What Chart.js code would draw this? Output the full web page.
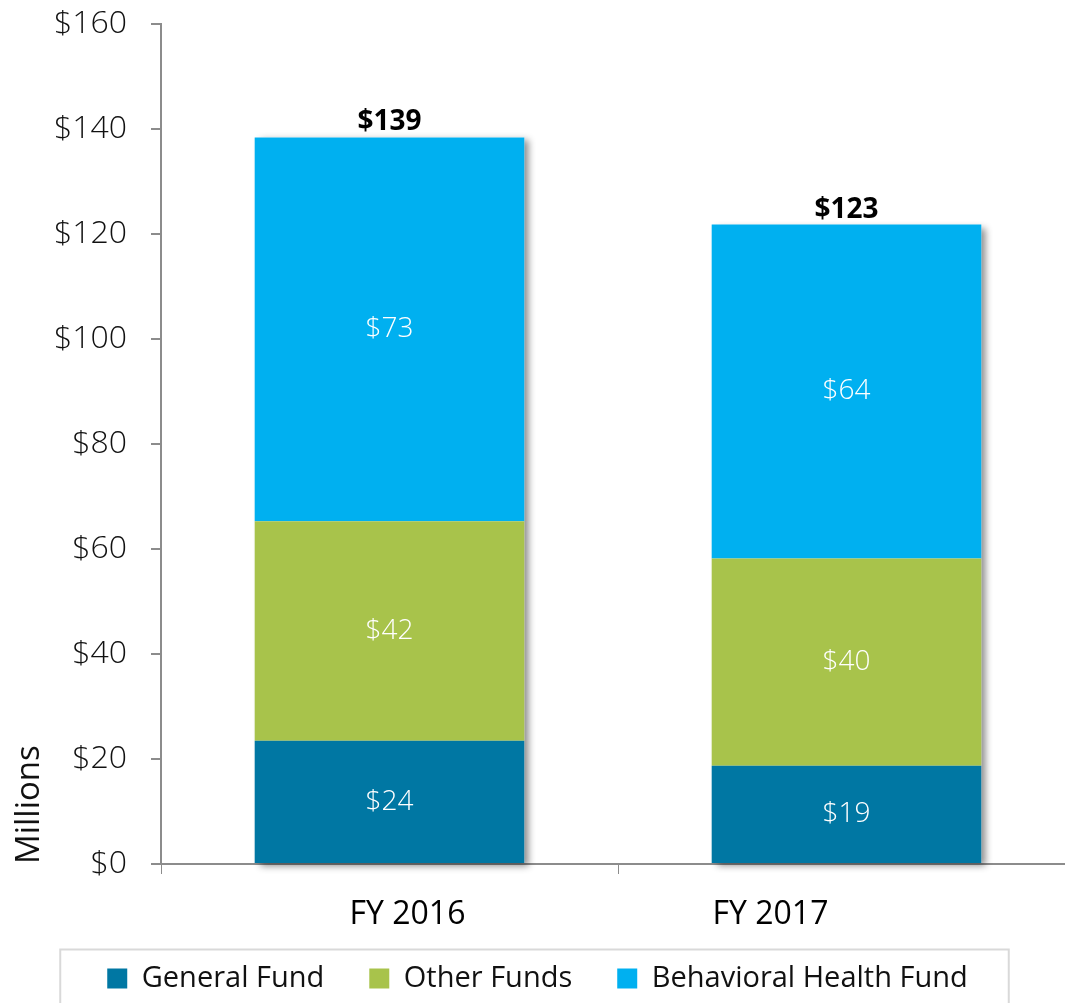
<!DOCTYPE html>
<html>
<head>
<meta charset="utf-8">
<script src="https://cdn.jsdelivr.net/npm/chart.js@4.4.1/dist/chart.umd.min.js"></script>
<style>
  html, body { margin: 0; padding: 0; background: #fff; overflow: hidden; }
  #wrap { width: 1075px; height: 1003px; }
</style>
</head>
<body>
<div id="wrap"><canvas id="chart" width="1075" height="1003"></canvas></div>
<script>
// values in millions of dollars
const years = ["FY 2016", "FY 2017"];
const generalFund = [23.5, 18.7];
const otherFunds = [41.8, 39.5];
const behavioralHealth = [73.1, 63.6];
const totalLabels = ["$139", "$123"];
const yMin = 0, yMax = 160, yStep = 20;

const FONT = "'Open Sans', 'Noto Sans', sans-serif";
const TEXT = "#111";
const AXIS = "#8c8c8c";
// category labels are not centred under the bars in the original
const catLabelShift = [18, -76];

const money = v => "$" + Math.round(v);

const barShadow = {
  id: "barShadow",
  beforeDatasetsDraw(chart) {
    const ctx = chart.ctx;
    const first = chart.getDatasetMeta(0);
    const last = chart.getDatasetMeta(chart.data.datasets.length - 1);
    ctx.save();
    ctx.shadowColor = "rgba(0,0,0,0.45)";
    ctx.shadowBlur = 7;
    ctx.shadowOffsetX = 5;
    ctx.shadowOffsetY = 3;
    ctx.fillStyle = "#fff";
    first.data.forEach((bar, i) => {
      const t = last.data[i];
      ctx.fillRect(bar.x - bar.width / 2, t.y, bar.width, bar.base - t.y);
    });
    ctx.restore();
  }
};

const barLabels = {
  id: "barLabels",
  afterDatasetsDraw(chart) {
    const ctx = chart.ctx;
    ctx.save();
    ctx.textAlign = "center";
    ctx.textBaseline = "middle";
    ctx.fillStyle = "#fff";
    ctx.font = "300 28px " + FONT;
    chart.data.datasets.forEach((ds, d) => {
      chart.getDatasetMeta(d).data.forEach((bar, i) => {
        ctx.fillText(money(ds.data[i]), bar.x, (bar.y + bar.base) / 2);
      });
    });
    const last = chart.getDatasetMeta(chart.data.datasets.length - 1);
    ctx.fillStyle = "#000";
    ctx.font = "bold 28px " + FONT;
    ctx.textBaseline = "bottom";
    last.data.forEach((bar, i) => {
      ctx.fillText(totalLabels[i], bar.x, bar.y - 1);
    });
    ctx.restore();
  },
  afterDraw(chart) {
    const ctx = chart.ctx;
    const x = chart.scales.x;
    ctx.save();
    ctx.fillStyle = "#000";
    ctx.font = "32px " + FONT;
    ctx.textAlign = "center";
    ctx.textBaseline = "middle";
    years.forEach((label, i) => {
      ctx.fillText(label, x.getPixelForValue(i) + catLabelShift[i], chart.chartArea.bottom + 51);
    });
    // box around the legend
    const boxes = chart.legend.legendHitBoxes;
    if (boxes.length) {
      const left = Math.min(...boxes.map(b => b.left)) - 47;
      const right = Math.max(...boxes.map(b => b.left + b.width)) + 41;
      const midY = boxes[0].top + boxes[0].height / 2;
      ctx.strokeStyle = "#d9d9d9";
      ctx.lineWidth = 2;
      ctx.strokeRect(left, midY - 29, right - left, 80);
    }
    ctx.restore();
  }
};

new Chart(document.getElementById("chart"), {
  type: "bar",
  data: {
    labels: years,
    datasets: [
      { label: "General Fund", data: generalFund, backgroundColor: "#0077A3" },
      { label: "Other Funds", data: otherFunds, backgroundColor: "#A8C34B" },
      { label: "Behavioral Health Fund", data: behavioralHealth, backgroundColor: "#00B0F0" }
    ]
  },
  options: {
    responsive: false,
    animation: false,
    layout: { padding: { top: 24, right: 0, bottom: 0, left: 0 } },
    datasets: { bar: { barPercentage: 0.59, categoryPercentage: 1 } },
    scales: {
      x: {
        stacked: true,
        grid: { display: true, drawOnChartArea: false, drawTicks: true, tickLength: 10, color: AXIS, offset: true },
        border: { display: true, color: AXIS, width: 2 },
        ticks: { display: false },
        afterFit(scale) { scale.height = 55; }
      },
      y: {
        stacked: true,
        min: yMin,
        max: yMax,
        ticks: {
          stepSize: yStep,
          padding: 24,
          color: TEXT,
          font: { family: FONT, size: 32, weight: "300" },
          callback: v => "$" + v
        },
        grid: { display: true, drawOnChartArea: false, drawTicks: true, tickLength: 10, color: AXIS, lineWidth: 2 },
        border: { display: true, color: AXIS, width: 2 },
        title: {
          display: true,
          text: "Millions",
          align: "start",
          color: TEXT,
          font: { family: FONT, size: 33 },
          padding: { top: 10, bottom: 0 }
        },
        afterFit(scale) {
          scale.width = 161;
          scale.paddingTop = 0;
          scale.paddingBottom = 0;
        }
      }
    },
    plugins: {
      legend: {
        position: "bottom",
        labels: {
          boxWidth: 20,
          boxHeight: 20,
          padding: 45,
          color: TEXT,
          font: { family: FONT, size: 29 }
        }
      },
      tooltip: { enabled: false }
    }
  },
  plugins: [barShadow, barLabels]
});
</script>
</body>
</html>
